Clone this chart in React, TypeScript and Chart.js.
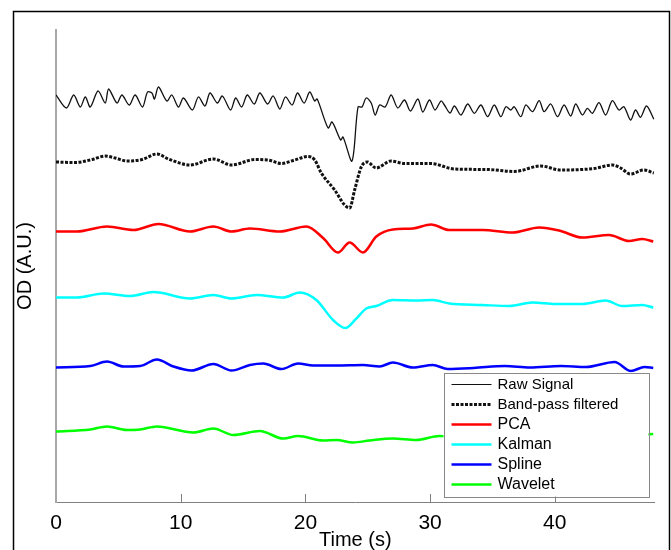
import React, { useEffect, useRef } from "react";
import { Chart, registerables } from "chart.js";

Chart.register(...registerables);

// Series labels (legend order)
const SERIES_LABELS = ["Raw Signal", "Band-pass filtered", "PCA", "Kalman", "Spline", "Wavelet"];
const X_TICKS = [0, 10, 20, 30, 40];

// [time (s), OD (A.U., vertically offset per trace)]
const RAW: [number, number][] = [
  [0.0, 407], [0.83, 394], [1.42, 407], [1.95, 395], [2.35, 405], [2.75, 395], [3.37, 411], [3.95, 399],
  [4.22, 413], [4.89, 399], [5.29, 407], [5.87, 397], [6.35, 407], [6.94, 395], [7.34, 410], [7.69, 409],
  [7.9, 403], [8.22, 415], [8.89, 401], [9.29, 407], [9.82, 395], [10.22, 404], [10.94, 392], [11.42, 405],
  [11.95, 396], [12.35, 409], [12.94, 399], [13.34, 406], [14.0, 392], [14.41, 404], [14.89, 395], [15.34, 407],
  [15.9, 398], [16.35, 409], [16.97, 398], [17.42, 406], [17.95, 393], [18.4, 405], [18.94, 397], [19.37, 409],
  [19.9, 399], [20.35, 410], [20.75, 401], [20.95, 403], [21.82, 374], [22.14, 380], [22.83, 362], [23.02, 365],
  [23.74, 341], [24.22, 395], [24.54, 395], [24.88, 404], [25.28, 399], [25.6, 387], [25.95, 397], [26.4, 395],
  [26.88, 407], [27.41, 394], [27.95, 402], [28.43, 391], [29.02, 403], [29.42, 390], [29.95, 402], [30.4, 392],
  [30.88, 401], [31.15, 397], [31.6, 389], [31.95, 396], [32.48, 387], [33.02, 398], [33.55, 388.7], [34.08, 397],
  [34.62, 385.3], [35.15, 397], [35.68, 385.3], [36.08, 395.3], [36.48, 392], [36.75, 395.3], [37.28, 385.3],
  [37.68, 397], [38.22, 390.3], [38.75, 401.3], [39.15, 390.3], [39.68, 398], [40.22, 385.3], [40.75, 397],
  [41.28, 386], [41.68, 398], [42.22, 387], [42.62, 393.7], [43.02, 388.7], [43.55, 399.3], [44.08, 387],
  [44.62, 401.3], [45.15, 392], [45.55, 395.3], [46.08, 382], [46.48, 392], [46.88, 384.7], [47.36, 396],
  [47.95, 382.7],
];

const BANDPASS: [number, number][] = [
  [0, 340], [1.55, 339.5], [2.9, 342.5], [3.95, 346], [4.75, 344], [5.7, 341], [6.9, 342.5], [8.1, 348],
  [9.02, 343], [10.75, 337], [12.62, 343], [14.09, 337], [15.95, 342.5], [17.0, 342], [18.08, 338.5],
  [19.15, 342], [20.2, 345.5], [20.75, 342], [21.28, 329], [22.35, 312], [23.15, 297], [23.55, 294],
  [23.95, 312], [24.48, 335], [24.97, 340], [25.68, 334], [26.88, 341], [27.95, 338.5], [30.08, 338.5],
  [31.95, 333], [34.62, 332.5], [36.75, 330.5], [38.88, 336], [40.48, 332], [43.15, 333.5], [44.62, 337],
  [45.28, 334], [46.08, 328], [47.15, 332], [47.95, 329],
];

const PCA: [number, number][] = [
  [0, 270.5], [1.68, 270.5], [4.09, 275.5], [6.22, 272], [8.22, 278], [10.75, 270.5], [12.62, 275.5],
  [14.08, 270.5], [15.55, 273.5], [17.95, 270.5], [20.08, 275.5], [21.42, 264], [22.62, 249.5], [23.55, 259.5],
  [24.62, 249.5], [25.69, 265.5], [27.02, 272.5], [28.62, 273.5], [30.08, 277.5], [31.55, 272], [34.22, 272],
  [36.62, 269.5], [38.75, 274.5], [40.35, 271.5], [42.22, 264.5], [44.35, 267], [45.95, 261], [47.02, 263],
  [47.9, 260.5],
];

const KALMAN: [number, number][] = [
  [0, 204.5], [1.68, 204.5], [3.82, 208.5], [5.95, 206], [7.82, 210], [10.75, 203.5], [12.62, 207],
  [14.08, 203.5], [16.08, 207], [18.22, 204.5], [19.55, 209.5], [20.88, 202], [22.22, 182], [23.2, 174],
  [24.09, 183.5], [24.88, 193.5], [25.68, 196], [27.02, 202], [28.88, 201.5], [30.22, 202], [31.55, 198.5],
  [34.22, 197], [36.35, 196], [38.22, 199.5], [40.08, 198], [42.22, 198], [44.08, 201.5], [45.42, 196],
  [47.02, 197], [47.9, 194.5],
];

const SPLINE: [number, number][] = [
  [0, 134.5], [2.75, 136], [4.09, 140.5], [5.42, 135.5], [6.75, 136], [8.09, 142.5], [9.42, 135.5],
  [10.88, 131.5], [12.62, 138], [14.08, 131.5], [15.55, 137], [16.62, 138.5], [18.08, 133], [19.42, 138.5],
  [20.62, 136.5], [22.5, 136.5], [24.62, 137], [25.95, 135.5], [27.02, 139.5], [28.62, 134.5], [30.22, 137],
  [31.42, 133], [33.5, 134], [36, 136], [38, 134.5], [40.5, 136], [42.5, 135], [44.8, 140], [46.1, 131],
  [47.2, 135], [47.9, 134],
];

const WAVELET: [number, number][] = [
  [0, 70.5], [2.75, 72.5], [4.09, 75.5], [5.69, 72], [6.75, 72.5], [8.09, 75.5], [11.02, 69.5], [12.62, 73.5],
  [14.22, 67], [16.35, 71], [18.22, 63.5], [19.42, 66], [21.42, 61.5], [22.49, 62], [23.82, 59.5], [25.15, 61.5],
  [27.02, 63.5], [28.89, 62], [30.75, 66], [31.42, 65.5], [33.5, 63], [36, 64], [38.5, 62.5], [41, 64],
  [43.5, 65], [46, 66], [47.9, 68],
];

const SERIES_DATA = [RAW, BANDPASS, PCA, KALMAN, SPLINE, WAVELET];

// styles (kept apart from the data)
const COLORS = ["#111111", "#111111", "#ff0000", "#00ffff", "#0000ff", "#00ff00"];
const WIDTHS = [1.3, 3, 2.5, 2.5, 2.5, 2.5];
const DASHES: number[][] = [[], [3, 1.5], [], [], [], []];
const LEGEND_FONT_SIZES = [15, 15, 16, 16, 16, 16];
const FONT = "'Liberation Sans', Arial, sans-serif";

export default function App() {
  const ref = useRef<HTMLCanvasElement>(null);

  useEffect(() => {
    const canvas = ref.current;
    if (!canvas) return;

    const framePlugin = {
      id: "frame",
      beforeDraw(chart: any) {
        const { ctx, width, height } = chart;
        ctx.save();
        ctx.fillStyle = "#ffffff";
        ctx.fillRect(0, 0, width, height);
        ctx.restore();
      },
      afterDraw(chart: any) {
        const { ctx, chartArea: ca } = chart;
        const xs = chart.scales.x;
        ctx.save();
        // inward tick marks
        ctx.strokeStyle = "#808080";
        ctx.lineWidth = 1;
        xs.ticks.forEach((t: any) => {
          if (t.value === 0) return;
          const px = Math.round(xs.getPixelForValue(t.value)) + 0.5;
          ctx.beginPath();
          ctx.moveTo(px, ca.bottom);
          ctx.lineTo(px, ca.bottom - 8);
          ctx.stroke();
        });

        // legend box
        const R = ca.right - 6;
        const B = ca.bottom - 5.5;
        const L = R - 205;
        const T = B - 124;
        ctx.fillStyle = "#ffffff";
        ctx.fillRect(L, T, R - L, B - T);
        ctx.strokeStyle = "#888888";
        ctx.lineWidth = 1;
        ctx.strokeRect(Math.round(L) + 0.5, Math.round(T) + 0.5, Math.round(R - L), Math.round(B - T));
        chart.data.datasets.forEach((ds: any, i: number) => {
          const y = T + 12 + i * 20;
          ctx.beginPath();
          ctx.strokeStyle = ds.borderColor;
          ctx.lineWidth = i === 0 ? 1 : ds.borderWidth;
          ctx.setLineDash(ds.borderDash || []);
          ctx.moveTo(L + 8, y);
          ctx.lineTo(L + 48, y);
          ctx.stroke();
          ctx.setLineDash([]);
          ctx.fillStyle = "#000000";
          ctx.font = `${LEGEND_FONT_SIZES[i]}px ${FONT}`;
          ctx.textBaseline = "middle";
          ctx.textAlign = "left";
          ctx.fillText(ds.label, L + 54, y);
        });

        // outer frame
        ctx.strokeStyle = "#000000";
        ctx.lineWidth = 1.5;
        ctx.strokeRect(13.5, 11.5, 656, 600);
        ctx.restore();
      },
    };

    const chart = new Chart(canvas, {
      type: "line",
      data: {
        datasets: SERIES_LABELS.map((label, i) => ({
          label,
          data: SERIES_DATA[i].map(([x, y]) => ({ x, y })),
          borderColor: COLORS[i],
          backgroundColor: COLORS[i],
          borderWidth: WIDTHS[i],
          borderDash: DASHES[i],
          pointRadius: 0,
          fill: false,
          tension: i === 0 ? 0.3 : 0.4,
          cubicInterpolationMode: i === 0 ? "default" : "monotone",
        })) as any,
      },
      options: {
        animation: false,
        responsive: false,
        maintainAspectRatio: false,
        layout: { padding: { top: 30, right: 16.5, left: 0, bottom: 0 } },
        plugins: {
          legend: { display: false },
          tooltip: { enabled: false },
        },
        scales: {
          x: {
            type: "linear",
            min: 0,
            max: 48,
            afterFit: (s: any) => {
              s.height = 48;
            },
            afterBuildTicks: (s: any) => {
              s.ticks = X_TICKS.map((v) => ({ value: v }));
            },
            ticks: {
              stepSize: 10,
              includeBounds: false,
              maxRotation: 0,
              padding: 1,
              color: "#000000",
              font: { family: FONT, size: 21 },
            },
            grid: { display: false },
            border: { display: true, color: "#808080", width: 1 },
            title: {
              display: true,
              text: "Time (s)",
              color: "#000000",
              font: { family: FONT, size: 20, lineHeight: 1 },
              padding: 0,
            },
          },
          y: {
            type: "linear",
            min: 0,
            max: 472,
            afterFit: (s: any) => {
              s.width = 56;
            },
            ticks: { display: false },
            grid: { display: false },
            border: { display: true, color: "#a8a8a8", width: 2 },
            title: {
              display: true,
              text: "OD (A.U.)",
              color: "#000000",
              font: { family: FONT, size: 20, lineHeight: 1 },
              padding: { top: 15, bottom: 0 },
            },
          },
        },
      } as any,
      plugins: [framePlugin],
    });

    return () => chart.destroy();
  }, []);

  return (
    <div style={{ position: "fixed", left: 0, top: 0, width: 671, height: 550, background: "#fff" }}>
      <canvas ref={ref} width={671} height={550} style={{ width: 671, height: 550, display: "block" }} />
    </div>
  );
}
